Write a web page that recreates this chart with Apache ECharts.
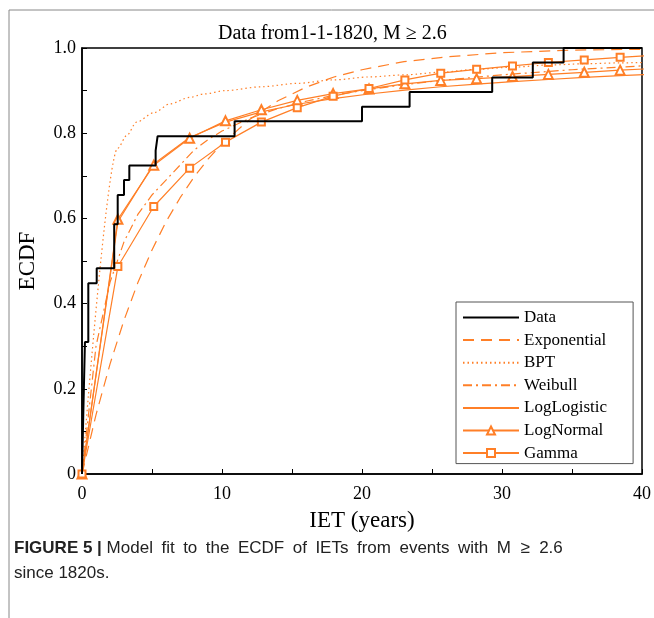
<!DOCTYPE html>
<html>
<head>
<meta charset="utf-8">
<script src="https://cdn.jsdelivr.net/npm/echarts@6/dist/echarts.min.js"></script>
<style>
html, body { margin: 0; padding: 0; background: #fff; }
#chart { width: 654px; height: 618px; }
</style>
</head>
<body>
<div id="chart"></div>
<script>
const stepX = [0, 0.09, 0.21, 0.45, 1.05, 2.3, 2.55, 3.0, 3.38, 5.26, 5.4, 10.9, 20.0, 23.4, 29.3, 32.2, 34.4, 40];
const stepY = [0, 0.138, 0.310, 0.448, 0.483, 0.586, 0.655, 0.690, 0.724, 0.759, 0.793, 0.828, 0.862, 0.897, 0.931, 0.966, 1.0, 1.0];

// sample grid of the marked models (markers sit on it)
const xGrid = [0, 2.5625, 5.125, 7.6875, 10.25, 12.8125, 15.375, 17.9375, 20.5, 23.0625, 25.625, 28.1875, 30.75, 33.3125, 35.875, 38.4375, 41];
const logLogVals = [0, 0.592, 0.728, 0.790, 0.826, 0.850, 0.868, 0.881, 0.892, 0.901, 0.909, 0.915, 0.921, 0.926, 0.931, 0.935, 0.939];
const logNormVals = [0, 0.598, 0.725, 0.788, 0.829, 0.855, 0.877, 0.893, 0.904, 0.916, 0.924, 0.928, 0.933, 0.938, 0.943, 0.948, 0.952];
const gammaVals = [0, 0.487, 0.628, 0.718, 0.779, 0.826, 0.860, 0.887, 0.905, 0.925, 0.941, 0.950, 0.958, 0.966, 0.972, 0.978, 0.983];

// smoother curves, finer grid
const fineX = [0, 1, 2, 3, 4, 5, 6, 7, 8, 9, 10, 12, 14, 16, 18, 20, 23, 26, 30, 35, 40];
const expVals = [0, 0.139, 0.258, 0.361, 0.450, 0.526, 0.592, 0.648, 0.697, 0.739, 0.775, 0.833, 0.876, 0.908, 0.932, 0.949, 0.968, 0.979, 0.989, 0.995, 0.997];
const weibullVals = [0, 0.30, 0.45, 0.545, 0.61, 0.655, 0.69, 0.725, 0.76, 0.785, 0.805, 0.835, 0.858, 0.875, 0.889, 0.900, 0.914, 0.925, 0.937, 0.949, 0.958];
const bptX = [0, 2.5625, 3.2, 3.9, 5.125, 6.3, 7.6875, 8.7, 10.25, 12.8125, 15.375, 17.9375, 20.5, 23.0625, 25.625, 28.1875, 30.75, 33.3125, 35.875, 38.4375, 41];
const bptY = [0, 0.765, 0.795, 0.826, 0.848, 0.869, 0.884, 0.892, 0.900, 0.909, 0.917, 0.925, 0.932, 0.937, 0.943, 0.950, 0.955, 0.960, 0.963, 0.965, 0.967];

const orange = '#ff7f27';
const serif = 'Liberation Serif';

function pairs(xs, ys) {
    return xs.map((x, i) => [x, ys[i]]);
}

function fitLine(name, xs, ys, dash, extra) {
    return Object.assign({
        name: name,
        type: 'line',
        data: pairs(xs, ys),
        symbol: 'none',
        lineStyle: { color: orange, width: 1.2, type: dash },
        itemStyle: { color: orange },
        z: 3
    }, extra || {});
}

// legend entries without a marker: hide the default dot
const noDot = { opacity: 0 };

const chart = echarts.init(document.getElementById('chart'));
const option = {
    animation: false,
    backgroundColor: '#fff',
    title: {
        text: 'Data from1-1-1820, M \u2265 2.6',
        left: 218,
        top: 24,
        padding: 0,
        textStyle: { fontFamily: serif, fontSize: 20, fontWeight: 'normal', color: '#000' }
    },
    grid: {
        left: 82, right: 12, top: 48, bottom: 144,
        show: true,
        borderColor: '#000',
        borderWidth: 1.5,
        backgroundColor: '#fff'
    },
    legend: {
        orient: 'vertical',
        left: 456,
        top: 302,
        padding: [7, 26, 2, 6],
        itemWidth: 56,
        itemHeight: 10,
        itemGap: 5.6,
        backgroundColor: '#fff',
        borderColor: '#555',
        borderWidth: 1,
        textStyle: { fontFamily: serif, fontSize: 17, color: '#000' },
        data: [
            { name: 'Data', itemStyle: noDot },
            { name: 'Exponential', itemStyle: noDot },
            { name: 'BPT', itemStyle: noDot },
            { name: 'Weibull', itemStyle: noDot },
            { name: 'LogLogistic', itemStyle: noDot },
            'LogNormal',
            'Gamma'
        ]
    },
    xAxis: {
        type: 'value',
        min: 0, max: 40, interval: 5,
        name: 'IET (years)',
        nameLocation: 'middle',
        nameGap: 35,
        nameTextStyle: { fontFamily: serif, fontSize: 23, color: '#000' },
        axisLine: { lineStyle: { color: '#000', width: 1.5 } },
        axisTick: { inside: true, length: 5, lineStyle: { color: '#000' } },
        axisLabel: {
            margin: 11,
            fontFamily: serif, fontSize: 18, color: '#000',
            formatter: v => (v % 10 === 0 ? String(v) : '')
        },
        splitLine: { show: false }
    },
    yAxis: {
        type: 'value',
        min: 0, max: 1, interval: 0.1,
        name: 'ECDF',
        nameLocation: 'middle',
        nameGap: 43,
        nameTextStyle: { fontFamily: serif, fontSize: 23, color: '#000' },
        axisLine: { lineStyle: { color: '#000', width: 1.5 } },
        axisTick: { inside: true, length: 5, lineStyle: { color: '#000' } },
        axisLabel: {
            margin: 6,
            fontFamily: serif, fontSize: 18, color: '#000',
            formatter: v => {
                const k = Math.round(v * 10);
                if (k % 2 !== 0) return '';
                return k === 0 ? '0' : (k / 10).toFixed(1);
            }
        },
        splitLine: { show: false }
    },
    series: [
        {
            name: 'Data',
            type: 'line',
            step: 'end',
            data: pairs(stepX, stepY),
            symbol: 'none',
            lineStyle: { color: '#000', width: 2 },
            itemStyle: { color: '#000' },
            z: 5
        },
        fitLine('Exponential', fineX, expVals, [11, 7]),
        fitLine('BPT', bptX, bptY, [1.5, 3], { smooth: 0.3, smoothMonotone: 'x' }),
        fitLine('Weibull', fineX, weibullVals, [9, 4, 2, 4]),
        fitLine('LogLogistic', xGrid, logLogVals, 'solid'),
        fitLine('LogNormal', xGrid, logNormVals, 'solid', {
            symbol: 'emptyTriangle', symbolSize: 9, showAllSymbol: true,
            itemStyle: { color: orange, borderWidth: 1.3 }
        }),
        fitLine('Gamma', xGrid, gammaVals, 'solid', {
            symbol: 'emptyRect', symbolSize: 7, showAllSymbol: true,
            itemStyle: { color: orange, borderWidth: 1.3 }
        })
    ],
    graphic: [
        { type: 'line', shape: { x1: 9, y1: 10, x2: 654, y2: 10 }, style: { stroke: '#888', lineWidth: 1 } },
        { type: 'line', shape: { x1: 9, y1: 10, x2: 9, y2: 618 }, style: { stroke: '#888', lineWidth: 1 } },
        {
            type: 'text',
            left: 14,
            top: 536,
            style: {
                text: '{b|FIGURE 5 |} Model\u2002fit\u2002to\u2002the\u2002ECDF\u2002of\u2002IETs\u2002from\u2002events\u2002with\u2002M  \u2265  2.6\nsince 1820s.',
                fontFamily: 'Liberation Sans',
                fontSize: 17,
                lineHeight: 25,
                fill: '#222',
                rich: {
                    b: { fontFamily: 'Liberation Sans', fontSize: 17, fontWeight: 'bold', lineHeight: 25, fill: '#222' }
                }
            }
        }
    ]
};
chart.setOption(option);
</script>
</body>
</html>
